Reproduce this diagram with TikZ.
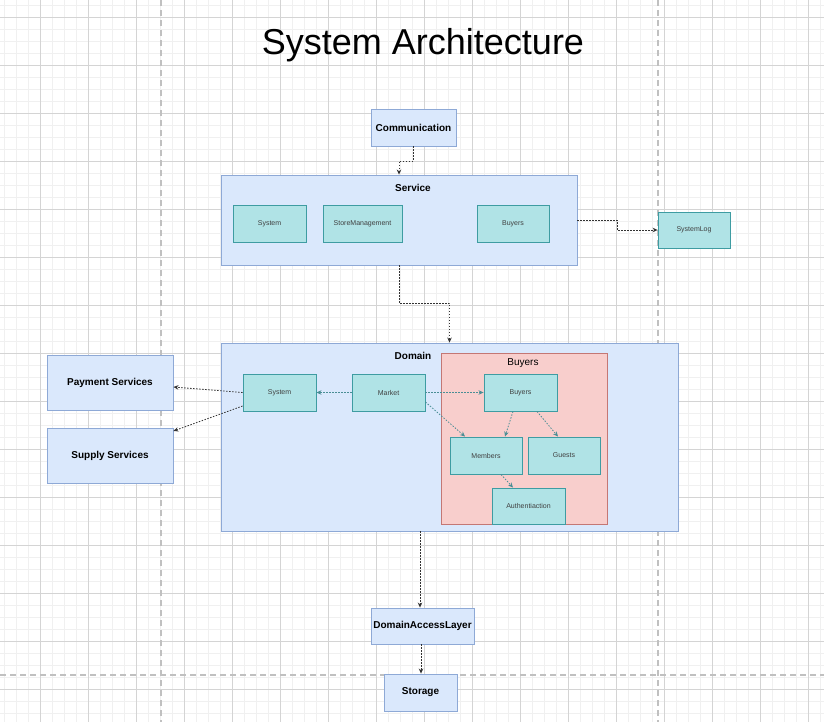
\documentclass[tikz,border=0pt]{standalone}
\usepackage{fontspec}
\setmainfont{Liberation Sans}
\usetikzlibrary{arrows.meta}

\definecolor{gridminor}{HTML}{F0F0F0}
\definecolor{gridmajor}{HTML}{D4D4D4}
\definecolor{pagebreak}{HTML}{C0C0C0}
\definecolor{bluefill}{HTML}{DAE8FC}
\definecolor{bluedraw}{HTML}{8EA9D6}
\definecolor{tealfill}{HTML}{B0E3E6}
\definecolor{tealdraw}{HTML}{3E9CA2}
\definecolor{redfill}{HTML}{F8CECC}
\definecolor{reddraw}{HTML}{C47774}
\definecolor{tealarrow}{HTML}{4A8E95}
\definecolor{darkarrow}{HTML}{333333}

\tikzset{
  bluebox/.style={draw=bluedraw, fill=bluefill, line width=0.9pt, inner sep=0pt},
  tealbox/.style={draw=tealdraw, fill=tealfill, line width=0.9pt, inner sep=0pt,
    minimum width=73pt, minimum height=37pt, font=\fontsize{7}{8}\selectfont, text=black!75},
  redbox/.style={draw=reddraw, fill=redfill, line width=0.9pt, inner sep=0pt},
  boldlabel/.style={font=\fontsize{10}{12}\selectfont\bfseries, inner sep=0pt},
  flowdark/.style={draw=darkarrow, line width=0.8pt, dash pattern=on 1.5pt off 1.5pt,
    -{Stealth[length=5pt,width=4.5pt]}},
  flowteal/.style={draw=tealarrow, line width=0.8pt, dash pattern=on 1.5pt off 1.5pt,
    -{Stealth[length=5pt,width=4.5pt]}},
}

\begin{document}
\begin{tikzpicture}[x=1pt, y=-1pt]
\useasboundingbox (0,0) rectangle (824,722);
\fill[white] (0,0) rectangle (824,722);

% background grid
\foreach \gx in {4.5,16.5,...,824} \draw[gridminor, line width=0.6pt] (\gx,0) -- (\gx,722);
\foreach \gy in {5.3,17.3,...,722} \draw[gridminor, line width=0.6pt] (0,\gy) -- (824,\gy);
\foreach \gx in {40.5,88.5,...,824} \draw[gridmajor, line width=0.7pt] (\gx,0) -- (\gx,722);
\foreach \gy in {17.3,65.3,...,722} \draw[gridmajor, line width=0.7pt] (0,\gy) -- (824,\gy);

% page breaks
\draw[pagebreak, line width=1.6pt, dash pattern=on 6pt off 4pt] (161,0) -- (161,722);
\draw[pagebreak, line width=1.6pt, dash pattern=on 6pt off 4pt] (658,0) -- (658,722);
\draw[pagebreak, line width=1.6pt, dash pattern=on 6pt off 4pt] (0,675) -- (824,675);

% title
\node[font=\fontsize{36}{40}\selectfont, inner sep=0pt, anchor=base] (title) at (423,54.5) {System Architecture};

% communication and service layer
\node[bluebox, minimum width=85pt, minimum height=37pt, boldlabel] (comm) at (413.5,127.5) {Communication};
\node[bluebox, minimum width=356pt, minimum height=90pt] (service) at (399,220) {};
\node[boldlabel] (servicelabel) at (413,188) {Service};
\node[tealbox] (ssystem) at (269.5,223.5) {System};
\node[tealbox, minimum width=79pt] (sstore) at (362.5,223.5) {StoreManagement};
\node[tealbox, minimum width=72pt] (sbuyers) at (513,223.5) {Buyers};
\node[tealbox, minimum width=72pt, minimum height=36pt] (syslog) at (694,230) {SystemLog};

% domain layer
\node[bluebox, minimum width=457pt, minimum height=188pt] (domain) at (449.5,437) {};
\node[boldlabel] (domainlabel) at (413,356) {Domain};
\node[redbox, minimum width=166pt, minimum height=171pt] (buyersgroup) at (524,438.5) {};
\node[font=\fontsize{10}{12}\selectfont, inner sep=0pt] (buyerslabel) at (523,363) {Buyers};
\node[tealbox] (dsystem) at (279.5,392.5) {System};
\node[tealbox] (market) at (388.5,392.5) {Market};
\node[tealbox] (bbuyers) at (520.5,392.5) {Buyers};
\node[tealbox, minimum width=72pt] (members) at (486,455.5) {Members};
\node[tealbox, minimum width=72pt] (guests) at (564,455.5) {Guests};
\node[tealbox, minimum height=36pt] (auth) at (528.5,506) {Authentiaction};

% external services
\node[bluebox, minimum width=126pt, minimum height=55pt, boldlabel] (payment) at (110,382.5) {Payment Services};
\node[bluebox, minimum width=126pt, minimum height=55pt, boldlabel] (supply) at (110,455.5) {Supply Services};

% persistence
\node[bluebox, minimum width=103pt, minimum height=36pt, boldlabel] (dal) at (422.5,626) {DomainAccessLayer};
\node[bluebox, minimum width=73pt, minimum height=37pt, boldlabel] (storage) at (420.5,692.5) {Storage};

% connectors between layers
\draw[flowdark] (comm.south) -- ++(0,14.5) -| (service.north);
\draw[flowdark] (service.east) -- ++(40,0) |- (syslog.west);
\draw[flowdark] (service.south) -- ++(0,38) -| (domain.north);
\draw[flowdark] ([xshift=-2.5pt]dal.north |- domain.south) -- ([xshift=-2.5pt]dal.north);
\draw[flowdark] ([xshift=-1.5pt]dal.south) -- ([xshift=-1.5pt]dal.south |- storage.north);

% connectors to external services
\draw[flowdark] (dsystem.west) -- ([yshift=-4.5pt]payment.east);
\draw[flowdark] ([yshift=-13.5pt]dsystem.west) -- ([yshift=24.5pt]supply.east);

% connectors inside the domain
\draw[flowteal] (market.west) -- (dsystem.east);
\draw[flowteal] (market.east) -- (bbuyers.west);
\draw[flowteal] ([yshift=-9.5pt]market.east) -- ([xshift=-21pt]members.north);
\draw[flowteal] ([xshift=-7.5pt]bbuyers.south) -- ([xshift=19pt]members.north);
\draw[flowteal] ([xshift=16.5pt]bbuyers.south) -- ([xshift=-6pt]guests.north);
\draw[flowteal] ([xshift=15pt]members.south) -- ([xshift=-15.5pt]auth.north);
\end{tikzpicture}
\end{document}
